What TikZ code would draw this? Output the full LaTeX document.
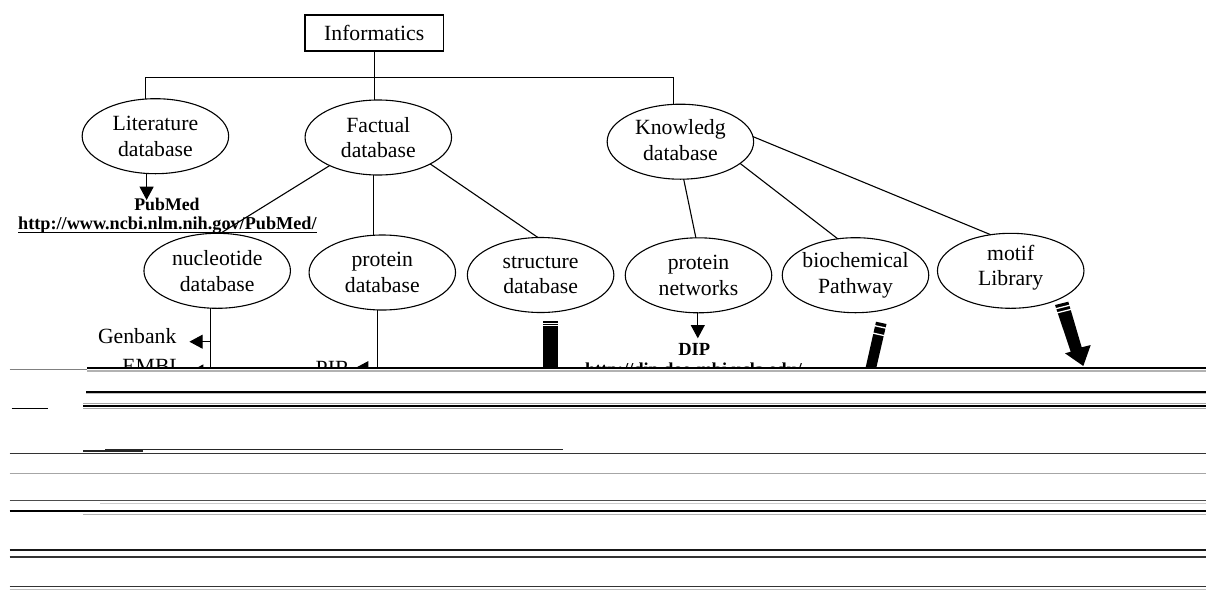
\documentclass[tikz,border=0pt]{standalone}
\usepackage{fontspec}
\setmainfont{Liberation Serif}
\usetikzlibrary{shapes.geometric,arrows.meta}
\begin{document}
\begin{tikzpicture}[x=1pt,y=-1pt,
  every node/.style={inner sep=0pt,outer sep=0pt},
  oval/.style={draw,ellipse,line width=1.1pt,minimum width=146.5pt,minimum height=75pt},
  lbl/.style={align=center,font=\fontsize{21.7}{25.6}\selectfont},
  boldlbl/.style={font=\fontsize{18.2}{20}\selectfont\bfseries},
  link/.style={line width=1.1pt},
  tip/.style={line width=1.1pt,-{Triangle[width=14pt,length=13.3pt]}},
  scan/.style={line width=1.2pt}
]
\useasboundingbox (0,0) rectangle (1206,592);

% root
\node[draw,line width=1.1pt,minimum width=138.5pt,minimum height=36pt,lbl] (info) at (374.2,33) {Informatics};

% ellipses
\node[oval] (lit) at (155.4,136.2) {};
\node[oval] (fact) at (378.3,137.5) {};
\node[oval] (know) at (680.4,141.7) {};
\node[oval] (nuc) at (217.2,270.8) {};
\node[oval] (prot) at (382.3,272.5) {};
\node[oval] (struc) at (540.6,275) {};
\node[oval] (pnet) at (698.5,275.3) {};
\node[oval] (bioc) at (855.5,275.2) {};
\node[oval] (motif) at (1010.7,270.8) {};

\node[lbl] (litT) at (lit) {Literature\\database};
\node[lbl] (factT) at (fact) {Factual\\database};
\node[lbl,yshift=1.5pt] (knowT) at (know) {Knowledg\\database};
\node[lbl] (nucT) at (nuc) {nucleotide\\database};
\node[lbl] (protT) at (prot) {protein\\database};
\node[lbl] (strucT) at (struc) {structure\\database};
\node[lbl] (pnetT) at (pnet) {protein\\networks};
\node[lbl] (biocT) at (bioc) {biochemical\\Pathway};
\node[lbl,yshift=3pt] (motifT) at (motif) {motif\\Library};

% tree
\coordinate (barL) at (145.4,77.3);
\coordinate (barR) at (673.4,77.3);
\draw[link] (info.south) -- (info.south |- fact.north);
\draw[link] (barL) -- (barR);
\draw[link] (barL) -- (barL |- lit.north);
\draw[link] (barR) -- (barR |- know.north);

\draw[link] (fact.210) -- (nuc.85);
\draw[link] (fact.262) -- (fact.262 |- prot.north);
\draw[link] (fact.333.6) -- (struc.94.7);

\draw[link] (know.275) -- (pnet.94);
\draw[link] (know.340) -- (bioc.116.5);
\draw[link] (know.4) -- (motif.119);

% PubMed
\coordinate (pmtip) at (146.6,200);
\draw[tip] (pmtip |- lit.south) -- (pmtip);
\node[boldlbl,font=\fontsize{17.8}{20}\selectfont\bfseries,anchor=base] (pubmed) at (167,210) {PubMed};
\node[boldlbl,anchor=base] (pmurl) at (167.4,229.3) {http://www.ncbi.nlm.nih.gov/PubMed/};
\draw[line width=1.6pt] ([yshift=-3.2pt]pmurl.base west) -- ([yshift=-3.2pt]pmurl.base east);

% Genbank
\coordinate (nucdown) at (210.5,390);
\node[lbl,anchor=base] (genbank) at (137.2,343.3) {Genbank};
\coordinate (gbtip) at (189.4,341.7);
\draw[tip] (gbtip -| nucdown) -- (gbtip);

% DIP
\coordinate (diptip) at (697.8,338.3);
\draw[tip] (diptip |- pnet.south) -- (diptip);
\node[boldlbl,font=\fontsize{18.5}{20}\selectfont\bfseries,anchor=base] (dip) at (694.2,355.3) {DIP};

% part of the picture cut off by the scan damage
\begin{scope}
\clip (0,0) rectangle (1206,367.5);
\draw[link] (nucdown |- nuc.south) -- (nucdown);
\node[lbl,anchor=base] (embl) at (152.6,373.7) {EMBL};
\coordinate (embltip) at (190,371.5);
\draw[tip] (embltip -| nucdown) -- (embltip);
\coordinate (protdown) at (377.5,390);
\draw[link] (protdown |- prot.south) -- (protdown);
\node[lbl,anchor=base] (pir) at (332.6,375) {PIR};
\coordinate (pirtip) at (355,368.2);
\draw[tip] (pirtip -| protdown) -- (pirtip);
\node[boldlbl,anchor=base west] (dipurl) at (585,375.5) {http://dip.doe-mbi.ucla.edu/};
% structure bar
\fill (543.4,320.5) rectangle (557.6,375);
\fill[white] (542,322.7) rectangle (559,323.7);
\fill[white] (542,325.4) rectangle (559,326.4);
% biochemical bar
\fill (876,321.7) -- (886.5,324) -- (875.3,372) -- (864.6,372) -- cycle;
\draw[white,line width=1.3pt] (868,324.2) -- (894,329.9);
\draw[white,line width=1.3pt] (866,331.6) -- (892,337.3);
\end{scope}

% motif arrow
\fill (1055,305) -- (1068.3,301.7) -- (1081.7,347.3) -- (1090.7,345) -- (1083.3,366) -- (1065,353.3) -- (1070.7,351.7) -- cycle;
\draw[white,line width=1.3pt] (1050,310.2) -- (1075,303.9);
\draw[white,line width=1.3pt] (1050,314.6) -- (1076,308.1);

% damaged scan lines
\draw[line width=2.4pt] (87,368) -- (1206,368);
\draw[gray!60,line width=2pt] (87,370.6) -- (1206,370.6);
\draw[gray,line width=1pt] (9.6,369.5) -- (87,369.5);
\draw[line width=2pt] (86,391.5) -- (1206,391.5);
\draw[gray!50,line width=1pt] (86,393.5) -- (1206,393.5);
\draw[gray!70,scan] (83,403.5) -- (1206,403.5);
\draw[line width=2pt] (83,406.2) -- (1206,406.2);
\draw[gray!70,scan] (83,408.8) -- (1206,408.8);
\draw[line width=1pt] (11.5,408.5) -- (48,408.5);
\draw[black!85,line width=1pt] (105,449) -- (562.6,449);
\draw[black!85,line width=1.5pt] (83,451) -- (143,451);
\draw[black!80,scan] (9.6,453.3) -- (1206,453.3);
\draw[gray!70,scan] (9.6,473.3) -- (1206,473.3);
\draw[black!70,scan] (9.6,500.5) -- (1206,500.5);
\draw[gray!40,scan] (100,503.5) -- (1206,503.5);
\draw[line width=2.5pt] (9.6,511) -- (1206,511);
\draw[gray!60,scan] (83,514.3) -- (1206,514.3);
\draw[black!90,line width=1.5pt] (9.6,550) -- (1206,550);
\draw[black!80,line width=1.4pt] (9.6,557) -- (1206,557);
\draw[black!80,line width=1.4pt] (9.6,586.5) -- (1206,586.5);
\draw[gray!50,line width=1pt] (9.6,589.5) -- (1206,589.5);
\end{tikzpicture}
\end{document}
